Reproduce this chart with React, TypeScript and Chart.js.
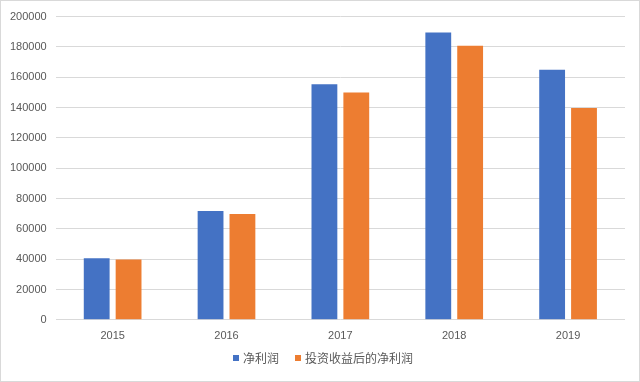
import React, { useEffect, useRef } from "react";
import { Chart, registerables } from "chart.js";

Chart.register(...registerables);

const categories = ["2015", "2016", "2017", "2018", "2019"];
const netProfit = [40600, 71700, 155300, 189500, 165000];
const netProfitAfterInvest = [39700, 69800, 150000, 180800, 139700];
const seriesNames = ["净利润", "投资收益后的净利润"];
const seriesColors = ["#4472C4", "#ED7D31"];

export default function App() {
  const ref = useRef<HTMLCanvasElement>(null);
  useEffect(() => {
    if (!ref.current) return;
    const font = { family: "'Liberation Sans', 'Noto Sans CJK SC', sans-serif", size: 11 };
    const chart = new Chart(ref.current, {
      type: "bar",
      data: {
        labels: categories,
        datasets: [
          {
            label: seriesNames[0],
            data: netProfit,
            backgroundColor: seriesColors[0],
            categoryPercentage: 0.56,
            barPercentage: 0.81,
          },
          {
            label: seriesNames[1],
            data: netProfitAfterInvest,
            backgroundColor: seriesColors[1],
            categoryPercentage: 0.56,
            barPercentage: 0.81,
          },
        ],
      },
      options: {
        animation: false,
        responsive: false,
        maintainAspectRatio: false,
        layout: { padding: { top: 4, left: 0, right: 14, bottom: 4 } },
        plugins: {
          legend: { display: false },
          tooltip: { enabled: false },
        },
        scales: {
          x: {
            grid: { display: false, drawTicks: false },
            border: { display: false },
            ticks: { color: "#595959", font, padding: 10 },
          },
          y: {
            min: 0,
            max: 200000,
            ticks: {
              stepSize: 20000,
              color: "#595959",
              font,
              padding: 9,
              callback: (v: any) => String(v),
            },
            grid: { color: "#d9d9d9", drawTicks: false },
            border: { display: false },
          },
        },
      },
    });
    return () => chart.destroy();
  }, []);
  const legendItem = (i: number) => (
    <span key={i} style={{ display: "inline-flex", alignItems: "center", marginRight: i === 0 ? 16 : 0 }}>
      <span style={{ display: "inline-block", width: 6, height: 6, background: seriesColors[i], marginRight: 4 }} />
      <span>{seriesNames[i]}</span>
    </span>
  );
  return (
    <div
      style={{
        position: "absolute",
        left: 0,
        top: 0,
        width: 640,
        height: 382,
        boxSizing: "border-box",
        border: "1px solid #d9d9d9",
        background: "#fff",
      }}
    >
      <canvas ref={ref} width={638} height={356} style={{ display: "block" }} />
      <div
        style={{
          position: "absolute",
          left: 232,
          top: 348,
          height: 18,
          display: "flex",
          alignItems: "center",
          fontFamily: "'Noto Sans CJK SC', sans-serif",
          fontSize: 12,
          color: "#595959",
          whiteSpace: "nowrap",
          lineHeight: "18px",
        }}
      >
        {legendItem(0)}
        {legendItem(1)}
      </div>
    </div>
  );
}
